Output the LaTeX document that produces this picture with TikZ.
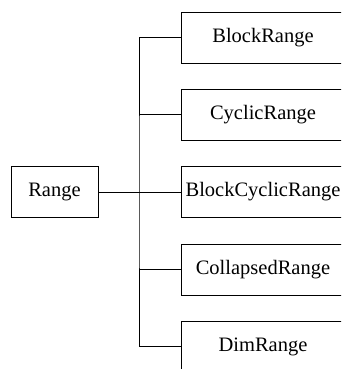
\documentclass[tikz,border=0pt]{standalone}
\usepackage{fontspec}
\setmainfont{Liberation Serif}
\begin{document}
\begin{tikzpicture}[x=1pt, y=-1pt, line width=0.9pt,
  classbox/.style={draw, fill=white, rectangle, inner sep=0pt, minimum height=51pt,
    font=\fontsize{20.5}{24}\selectfont},
  subbox/.style={classbox, minimum width=164pt}]
\useasboundingbox (0,0) rectangle (341,369);
\clip (0,0) rectangle (341,369);

\node [classbox, minimum width=87pt] (range) at (54.5,192) {Range};
\node [subbox] (block) at (263,37.5) {BlockRange};
\node [subbox] (cyclic) at (263,114.5) {CyclicRange};
\node [subbox] (blockcyclic) at (263,192) {BlockCyclicRange};
\node [subbox] (collapsed) at (263,269.5) {CollapsedRange};
\node [subbox] (dim) at (263,346.5) {DimRange};
\coordinate (bus) at (139,192);

\draw (range.east)--(blockcyclic.west);
\draw (block.west) -| (bus) |- (dim.west);
\draw (cyclic.west)--(cyclic.west -| bus) (collapsed.west)--(collapsed.west -| bus);
\end{tikzpicture}
\end{document}
